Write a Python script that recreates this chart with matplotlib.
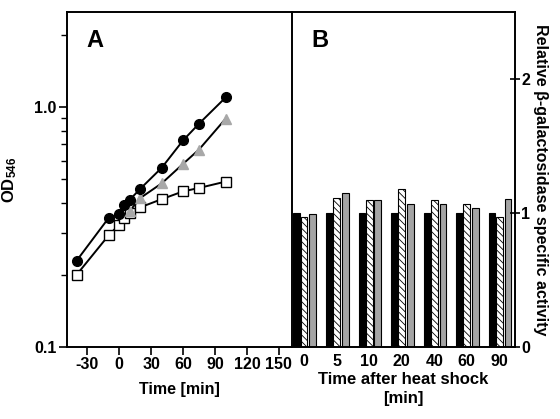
"""Growth curves (A) and relative beta-galactosidase activity (B) after heat shock."""

import matplotlib

matplotlib.use("Agg")
import matplotlib.pyplot as plt
import numpy as np
from matplotlib.ticker import FixedLocator, NullFormatter

plt.rcParams["font.family"] = ["Liberation Sans", "DejaVu Sans"]
plt.rcParams["font.weight"] = "bold"
plt.rcParams["axes.unicode_minus"] = False
plt.rcParams["mathtext.fontset"] = "custom"
plt.rcParams["mathtext.rm"] = "Liberation Sans:bold"
plt.rcParams["mathtext.bf"] = "Liberation Sans:bold"
plt.rcParams["mathtext.default"] = "bf"
plt.rcParams["hatch.linewidth"] = 0.6

# --- panel A: OD546 growth curves -------------------------------------------
time_circles = [-40, -10, 0, 5, 10, 20, 40, 60, 75, 100]
od_circles = [0.229, 0.345, 0.359, 0.39, 0.412, 0.458, 0.56, 0.728, 0.855, 1.10]

time_squares = [-40, -10, 0, 5, 10, 20, 40, 60, 75, 100]
od_squares = [0.20, 0.292, 0.324, 0.345, 0.363, 0.383, 0.414, 0.446, 0.461, 0.49]

time_triangles = [10, 20, 40, 60, 75, 100]
od_triangles = [0.37, 0.419, 0.482, 0.581, 0.667, 0.897]

# --- panel B: relative beta-galactosidase specific activity -----------------
shock_times = ["0", "5", "10", "20", "40", "60", "90"]
activity_black = [1.0, 1.0, 1.0, 1.0, 1.0, 1.0, 1.0]
activity_hatched = [0.968, 1.11, 1.10, 1.176, 1.10, 1.067, 0.968]
activity_gray = [0.993, 1.147, 1.10, 1.07, 1.07, 1.035, 1.104]

fig = plt.figure(figsize=(5.6, 4.19), dpi=100)
ax_a = fig.add_axes([0.1196, 0.1718, 0.4013, 0.7996])
ax_b = fig.add_axes([0.5209, 0.1718, 0.3987, 0.7996])

# panel A
line_kw = dict(color="black", linewidth=1.4)
ax_a.plot(time_squares, od_squares, marker="s", markersize=7.5, markerfacecolor="white",
          markeredgecolor="black", markeredgewidth=1.0, zorder=3, **line_kw)
ax_a.plot(time_triangles, od_triangles, marker="^", markersize=7, markerfacecolor="#a8a8a8",
          markeredgecolor="#a8a8a8", zorder=4, **line_kw)
ax_a.plot(time_circles, od_circles, marker="o", markersize=7, markerfacecolor="black",
          markeredgecolor="black", zorder=5, **line_kw)

ax_a.set_yscale("log")
ax_a.set_ylim(0.1, 2.5)
ax_a.set_xlim(-49, 162)
ax_a.set_xticks([-30, 0, 30, 60, 90, 120, 150])
ax_a.set_xticklabels(["-30", "0", "30", "60", "90", "120", "150"])
ax_a.yaxis.set_major_locator(FixedLocator([0.1, 1.0]))
ax_a.set_yticklabels(["0.1", "1.0"])
ax_a.yaxis.set_minor_locator(FixedLocator([0.2, 0.3, 0.4, 0.5, 0.6, 0.7, 0.8, 0.9, 2.0]))
ax_a.yaxis.set_minor_formatter(NullFormatter())
ax_a.tick_params(axis="both", which="major", direction="out", length=6, width=1.2,
                 labelsize=11.5, pad=1.5)
ax_a.tick_params(axis="y", which="minor", direction="out", length=4, width=1.0)
ax_a.tick_params(axis="x", which="minor", bottom=False)
ax_a.spines["right"].set_visible(False)
for side in ("left", "top", "bottom"):
    ax_a.spines[side].set_linewidth(1.4)
ax_a.set_xlabel("Time [min]", fontsize=11.5, fontweight="bold", labelpad=7)
ax_a.set_ylabel("OD$_{546}$", fontsize=12, fontweight="bold", labelpad=11)
ax_a.text(0.125, 0.915, "A", transform=ax_a.transAxes, fontsize=17, fontweight="bold",
          ha="center", va="center")

# panel B
x = np.arange(len(shock_times))
width = 0.205
bar_kw = dict(width=width, edgecolor="black", linewidth=0.8)
ax_b.bar(x - 0.225, activity_black, color="black", **bar_kw)
ax_b.bar(x, activity_hatched, color="white", hatch="\\\\\\\\\\", **bar_kw)
ax_b.bar(x + 0.265, activity_gray, color="#a4a4a4", **bar_kw)

ax_b.set_xlim(-0.38, 6.48)
ax_b.set_ylim(0, 2.5)
ax_b.set_xticks(x)
ax_b.set_xticklabels(shock_times)
ax_b.tick_params(axis="x", length=0, labelsize=11.5, pad=5)
ax_b.yaxis.tick_right()
ax_b.yaxis.set_label_position("right")
ax_b.set_yticks([0, 1, 2])
ax_b.tick_params(axis="y", direction="inout", length=7, width=1.2, labelsize=11.5, pad=1)
for side in ("left", "right", "top", "bottom"):
    ax_b.spines[side].set_linewidth(1.4)
ax_b.set_xlabel("Time after heat shock\n[min]", fontsize=12, fontweight="bold",
                labelpad=2, linespacing=1.35)
ax_b.set_ylabel("Relative β-galactosidase specific activity", fontsize=11.5,
                fontweight="bold", rotation=-90, labelpad=13)
ax_b.text(0.127, 0.915, "B", transform=ax_b.transAxes, fontsize=17, fontweight="bold",
          ha="center", va="center")

fig.savefig("out.png", dpi=100)
